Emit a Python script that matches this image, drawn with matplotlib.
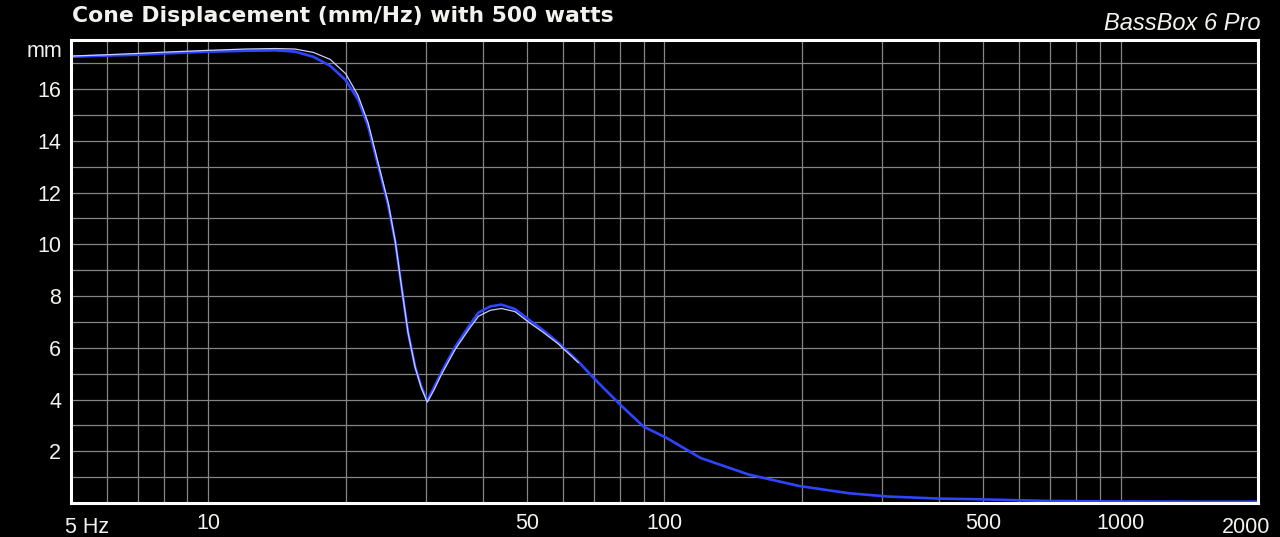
import matplotlib
matplotlib.use("Agg")
import matplotlib.pyplot as plt
import matplotlib.transforms as mtransforms

# ---- data ----
freq_blue = [5, 6, 7, 8, 10, 12, 14, 15.5, 17, 18.5, 20, 21.3, 22.4, 23.6, 24.8,
             25.7, 26.5, 27.4, 28.4, 29.3, 30.2, 31.2, 32.4, 34.8, 37.2, 39.1,
             41.5, 43.9, 47, 50.3, 54, 58.5, 64.7, 70.5, 80, 90, 101, 120, 153,
             197, 253, 309, 400, 470, 695, 1000, 1500, 2000]
disp_blue = [17.25, 17.3, 17.33, 17.38, 17.45, 17.48, 17.5, 17.45, 17.25, 16.9,
             16.35, 15.6, 14.57, 13.0, 11.5, 10.08, 8.4, 6.6, 5.27, 4.5, 3.95,
             4.45, 5.04, 6.05, 6.82, 7.36, 7.6, 7.67, 7.5, 7.1, 6.7, 6.2, 5.47,
             4.77, 3.8, 2.95, 2.52, 1.74, 1.1, 0.66, 0.38, 0.25, 0.17, 0.15,
             0.08, 0.06, 0.05, 0.05]

freq_white = [5, 6, 7, 8, 10, 12, 14, 15.5, 17, 18.5, 20, 21.3, 22.4, 23.6, 24.8,
              25.7, 26.5, 27.4, 28.4, 29.3, 30.2, 31.2, 32.4, 34.8, 37.2, 39.1,
              41.5, 43.9, 47, 50.3, 54, 58.5, 64.7]
disp_white = [17.28, 17.33, 17.38, 17.43, 17.5, 17.55, 17.57, 17.55, 17.42, 17.15,
              16.6, 15.75, 14.7, 13.1, 11.6, 10.1, 8.4, 6.6, 5.25, 4.45, 3.9,
              4.35, 4.95, 5.95, 6.7, 7.22, 7.45, 7.52, 7.4, 7.0, 6.62, 6.15, 5.43]

y_tick_values = [2, 4, 6, 8, 10, 12, 14, 16]
x_tick_values = [10, 50, 100, 500, 1000]
x_tick_labels = ["10", "50", "100", "500", "1000"]

title = "Cone Displacement (mm/Hz) with 500 watts"
brand = "BassBox 6 Pro"

# ---- figure ----
W, H, DPI = 1280, 537, 100
fig = plt.figure(figsize=(W / DPI, H / DPI), dpi=DPI, facecolor="black")
plt.rcParams['font.family'] = ['Liberation Sans', 'DejaVu Sans']

left_px, right_px, top_px, bot_px = 71, 1258, 40, 503
ax = fig.add_axes([left_px / W, 1 - bot_px / H,
                   (right_px - left_px) / W, (bot_px - top_px) / H])
ax.set_facecolor("black")
ax.set_xscale("log")
ax.set_xlim(5, 2000)
ax.set_ylim(0, 17.9)

# grid
grid_color = "#858585"
for dec in [1, 10, 100]:
    for m in range(1, 10):
        v = m * dec
        if 5 < v < 2000:
            ax.axvline(v, color=grid_color, lw=0.9, zorder=1)
ax.axvline(1000, color=grid_color, lw=0.9, zorder=1)
for v in range(1, 18):
    ax.axhline(v, color=grid_color, lw=0.9, zorder=1)

# curves
ax.plot(freq_blue, disp_blue, color="#2f44ff", lw=1.9, zorder=3,
        solid_joinstyle="round")
ax.plot(freq_white, disp_white, color="#c8d0ff", lw=0.9, zorder=4,
        solid_joinstyle="round")

# spines
for s in ax.spines.values():
    s.set_color("white")
    s.set_linewidth(2.2)
    s.set_zorder(5)

txt_color = "#f2f2ee"
fs_tick = 15.5
ax.set_yticks(y_tick_values)
ax.set_yticklabels([str(v) for v in y_tick_values])
ax.set_xticks(x_tick_values)
ax.set_xticklabels(x_tick_labels)
ax.xaxis.set_minor_locator(matplotlib.ticker.NullLocator())
ax.tick_params(axis="both", length=0, colors=txt_color, labelsize=fs_tick)
ax.tick_params(axis="y", pad=7)
ax.tick_params(axis="x", pad=7)

# extra axis labels
blend_x = mtransforms.blended_transform_factory(ax.transData, ax.transAxes)
ax.text(5, -0.03, "5 Hz", transform=blend_x + mtransforms.ScaledTranslation(-6 / DPI, 0, fig.dpi_scale_trans),
        ha="left", va="top", color=txt_color, fontsize=fs_tick)
ax.text(2000, -0.03, "2000", transform=blend_x + mtransforms.ScaledTranslation(12 / DPI, 0, fig.dpi_scale_trans),
        ha="right", va="top", color=txt_color, fontsize=fs_tick)
blend_y = mtransforms.blended_transform_factory(ax.transAxes, ax.transData)
ax.text(-0.0075, 17.45, "mm", transform=blend_y, ha="right", va="center",
        color=txt_color, fontsize=fs_tick)

fig.text(72 / W, 1 - 16 / H, title, ha="left", va="center", color=txt_color,
         fontsize=15.75, fontweight="bold", family=["DejaVu Sans"])
fig.text(1260 / W, 1 - 23 / H, brand, ha="right", va="center", color=txt_color,
         fontsize=17, fontstyle="italic")

fig.savefig("out.png", dpi=DPI, facecolor="black")
